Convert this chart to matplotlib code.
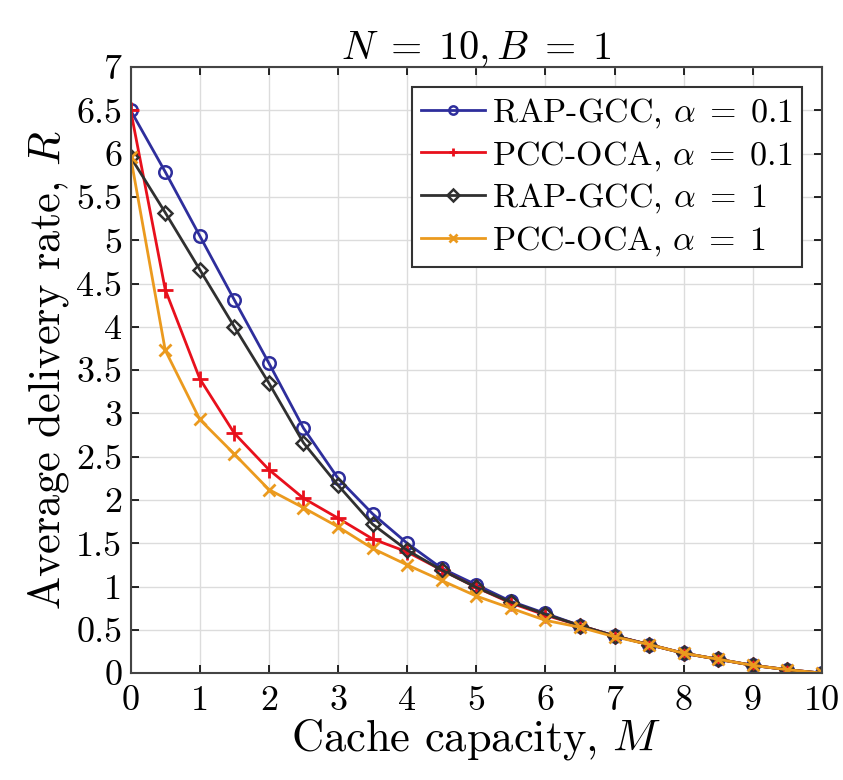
import numpy as np
import matplotlib
matplotlib.use("Agg")
import matplotlib.pyplot as plt

plt.rcParams['font.family'] = 'cmr10'
plt.rcParams['mathtext.fontset'] = 'cm'
plt.rcParams['axes.formatter.use_mathtext'] = True

M = [0, 0.5, 1, 1.5, 2, 2.5, 3, 3.5, 4, 4.5, 5, 5.5, 6, 6.5, 7, 7.5, 8, 8.5, 9, 9.5, 10]

rap_01 = [6.5, 5.79, 5.05, 4.31, 3.58, 2.83, 2.25, 1.84, 1.50, 1.21, 1.02, 0.83, 0.69,
          0.55, 0.43, 0.33, 0.23, 0.16, 0.09, 0.04, 0.0]
pcc_01 = [6.5, 4.43, 3.40, 2.77, 2.35, 2.02, 1.79, 1.55, 1.40, 1.19, 0.99, 0.81, 0.67,
          0.55, 0.43, 0.33, 0.23, 0.16, 0.09, 0.04, 0.0]
rap_1 = [5.96, 5.32, 4.66, 4.00, 3.35, 2.66, 2.17, 1.72, 1.42, 1.19, 0.99, 0.82, 0.68,
         0.55, 0.43, 0.33, 0.23, 0.16, 0.09, 0.04, 0.0]
pcc_1 = [5.96, 3.73, 2.93, 2.53, 2.12, 1.91, 1.69, 1.44, 1.25, 1.07, 0.89, 0.75, 0.61,
         0.53, 0.42, 0.33, 0.23, 0.16, 0.09, 0.04, 0.0]

fig = plt.figure(figsize=(8.43, 7.8), dpi=100)
ax = fig.add_axes([0.155, 0.137, 0.82, 0.777])

ax.plot(M, rap_01, color='#2e2e9c', marker='o', ms=9, mfc='none', mew=1.8, lw=2,
        label=r'RAP-GCC, $\alpha\;=\;0.1$')
ax.plot(M, pcc_01, color='#e8101c', marker='+', ms=12, mew=2, lw=2,
        label=r'PCC-OCA, $\alpha\;=\;0.1$')
ax.plot(M, rap_1, color='#303030', marker='D', ms=7, mfc='none', mew=1.8, lw=2,
        label=r'RAP-GCC, $\alpha\;=\;1$')
ax.plot(M, pcc_1, color='#eb9a1e', marker='x', ms=9, mew=2, lw=2,
        label=r'PCC-OCA, $\alpha\;=\;1$')

ax.set_xlim(0, 10)
ax.set_ylim(0, 7)
ax.set_xticks(np.arange(0, 11, 1))
ax.set_yticks(np.arange(0, 7.5, 0.5))
ax.set_yticklabels(['0', '0.5', '1', '1.5', '2', '2.5', '3', '3.5', '4', '4.5',
                    '5', '5.5', '6', '6.5', '7'])
ax.set_xticklabels([str(i) for i in range(11)])
ax.tick_params(direction='in', top=True, right=True, labelsize=26, length=6, width=1.2)
ax.tick_params(axis='y', pad=6)
ax.tick_params(axis='x', pad=9)
ax.grid(True, color='#dcdcdc', lw=1)
for s in ax.spines.values():
    s.set_linewidth(1.5)
    s.set_color('#444444')

ax.set_xlabel(r'Cache capacity, $M$', fontsize=32, labelpad=0)
ax.set_ylabel(r'Average delivery rate, $R$', fontsize=32, labelpad=4)
ax.set_title(r'$N\;=\;10, B\;=\;1$', fontsize=29, pad=6)

leg = ax.legend(loc='upper right', fontsize=24.5, fancybox=False, framealpha=1,
                edgecolor='#333333', borderpad=0.25, labelspacing=0.26,
                handlelength=1.9, handletextpad=0.2, borderaxespad=0.6)
leg.get_frame().set_linewidth(1.5)
for h in leg.legend_handles:
    h.set_markersize(6)

fig.savefig('out.png', dpi=100)
